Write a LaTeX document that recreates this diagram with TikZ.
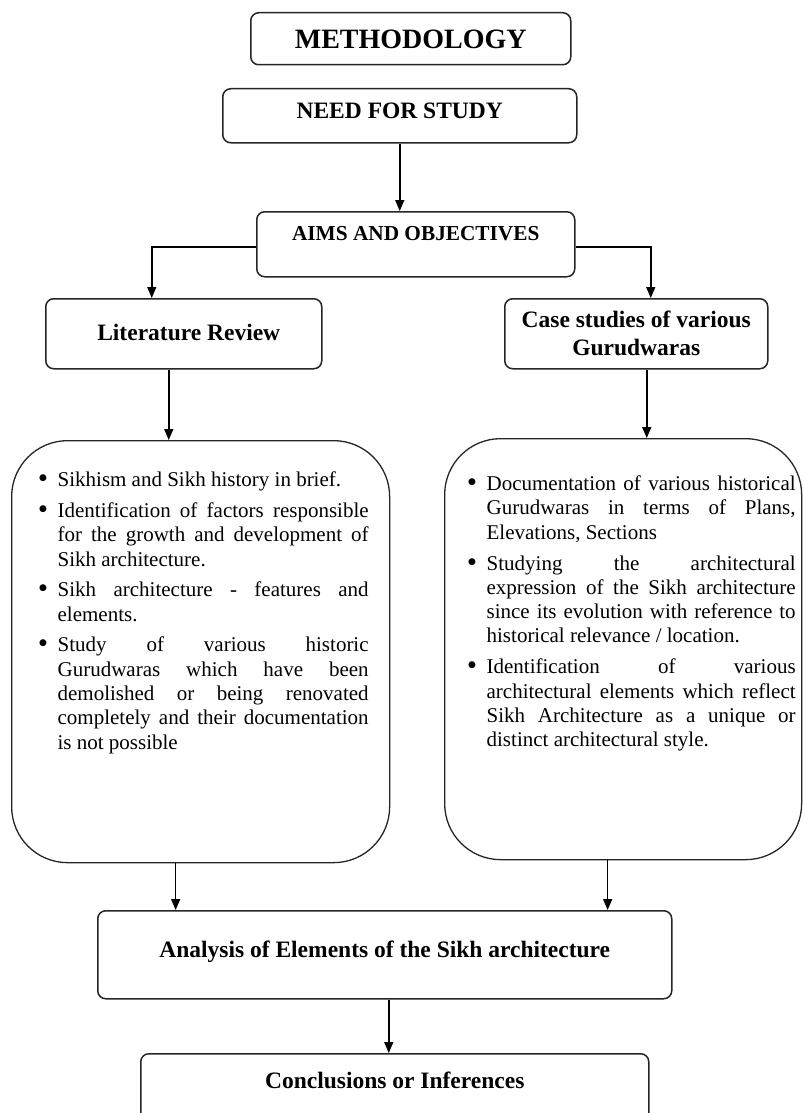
\documentclass[tikz,border=0pt]{standalone}
\usepackage{fontspec}
\setmainfont{Liberation Serif}
\newfontfamily\symfont{DejaVu Sans}
\usetikzlibrary{arrows.meta}
\tikzset{
  box/.style={draw=black!85, line width=1.5pt, rounded corners=8pt, inner sep=0pt,
    anchor=north west, font=\bfseries\fontsize{23.5}{28}\selectfont},
  bigbox/.style={draw=black!85, line width=1.3pt, rounded corners=56pt, inner sep=0pt,
    anchor=north west},
  arr/.style={line width=1.5pt, draw=black, -{Triangle[length=11pt,width=9pt]}},
}
\newcommand\mybullet{\raisebox{6pt}{\symfont\fontsize{9}{9}\selectfont ●}}
\newcommand\bitem[1]{\par\noindent\hangindent=17pt\hangafter=1%
  \makebox[17pt][l]{\hspace{-1.5pt}\mybullet}#1\par}
\newcommand\bodyset{\fontsize{21}{24.3}\selectfont\parindent=0pt\parskip=6.5pt
  \tolerance=10000\hyphenpenalty=10000\exhyphenpenalty=10000}
\begin{document}
\begin{tikzpicture}[x=1pt,y=-1pt]
\clip (0,0) rectangle (803,1113);
\fill[white] (0,0) rectangle (803,1113);

\node[box, minimum width=320pt, text height=35.8pt, text depth=16.2pt,
  font=\bfseries\fontsize{28}{32}\selectfont] (meth) at (250,12) {METHODOLOGY};
\node[box, minimum width=354pt, text height=29.3pt, text depth=24.7pt] (need) at (222,88) {NEED FOR STUDY};
\node[box, minimum width=318pt, text height=28.3pt, text depth=36.7pt,
  font=\bfseries\fontsize{21.3}{26}\selectfont] (aims) at (256,211) {AIMS AND OBJECTIVES\hspace{22pt}};
\node[box, minimum width=276pt, text height=41.75pt, text depth=28.25pt] (lr) at (45,298) {\hspace{10pt}Literature Review};
\node[box, minimum width=263pt, minimum height=70pt, align=center] (case) at (504,298)
  {Case studies of various\\Gurudwaras};

\node[bigbox, minimum width=378pt, text height=46pt, text depth=376pt] (bigL) at (11,440)
  {\hspace{8pt}\parbox[t]{328pt}{\bodyset
    \bitem{Sikhism and Sikh history in brief.}
    \bitem{Identification of factors responsible\linebreak for the growth and development of\linebreak Sikh architecture.}
    \bitem{Sikh architecture - features and\linebreak elements.}
    \bitem{Study of various historic\linebreak Gurudwaras which have been\linebreak demolished or being renovated\linebreak completely and their documentation\linebreak is not possible}}};

\node[bigbox, minimum width=357pt, text height=52pt, text depth=369pt] (bigR) at (444,438)
  {\hspace{19pt}\parbox[t]{326pt}{\bodyset
    \bitem{Documentation of various historical\linebreak Gurudwaras in terms of Plans,\linebreak Elevations, Sections}
    \bitem{Studying the architectural\linebreak expression of the Sikh architecture\linebreak since its evolution with reference to\linebreak historical relevance / location.}
    \bitem{Identification of various\linebreak architectural elements which reflect\linebreak Sikh Architecture as a unique or\linebreak distinct architectural style.}}};

\node[box, minimum width=574pt, text height=46.75pt, text depth=41.25pt] (anal) at (97,910)
  {Analysis of Elements of the Sikh architecture};
\node[box, minimum width=508pt, text height=34.75pt, text depth=42.25pt] (concl) at (140,1053)
  {Conclusions or Inferences};

\draw[arr] (need.south) -- (need.south |- aims.north);
\draw[arr] ([yshift=-2.5pt]aims.west) -| ([xshift=-32pt]lr.north);
\draw[arr] ([yshift=-2.5pt]aims.east) -| ([xshift=14.5pt]case.north);
\draw[arr] ([xshift=-15pt]lr.south) -- ([xshift=-15pt]lr.south |- bigL.north);
\draw[arr] ([xshift=10.5pt]case.south) -- ([xshift=10.5pt]case.south |- bigR.north);
\draw[arr] ([xshift=-25pt]bigL.south) -- ([xshift=-25pt]bigL.south |- anal.north);
\draw[arr] ([xshift=-15.5pt]bigR.south) -- ([xshift=-15.5pt]bigR.south |- anal.north);
\draw[arr] ([xshift=4pt]anal.south) -- ([xshift=4pt]anal.south |- concl.north);
\end{tikzpicture}
\end{document}
